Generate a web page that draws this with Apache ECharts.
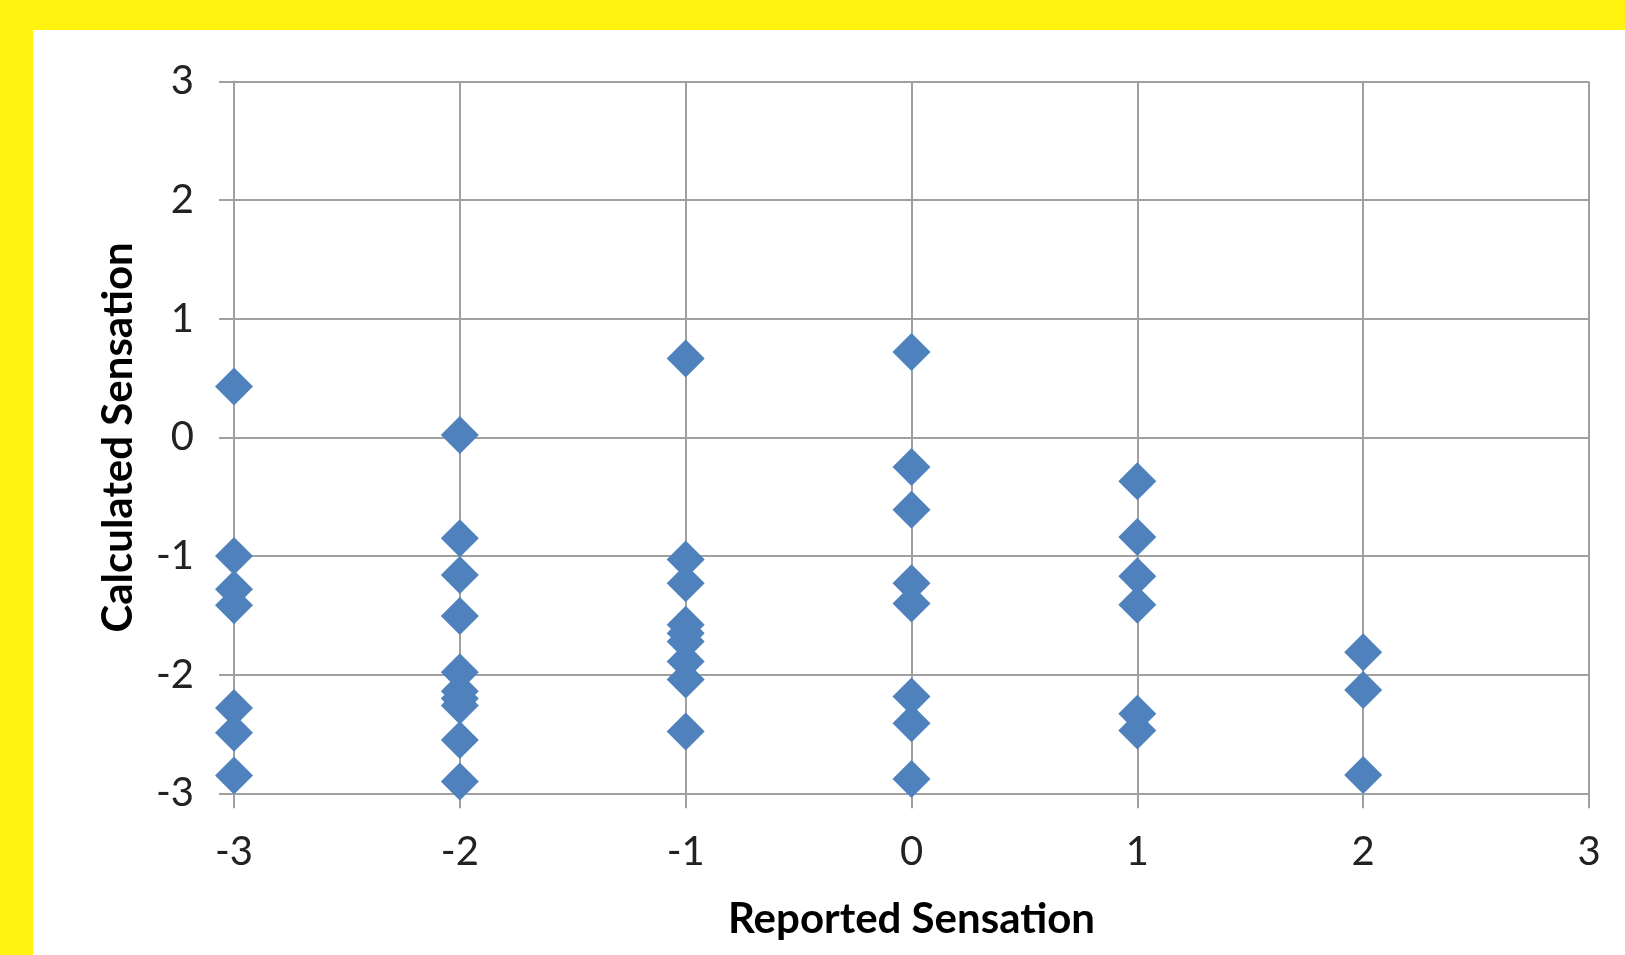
<!DOCTYPE html>
<html>
<head>
<meta charset="utf-8">
<script src="https://cdn.jsdelivr.net/npm/echarts@6/dist/echarts.min.js"></script>
<style>
  html, body { margin: 0; padding: 0; width: 1625px; height: 955px; background: #FFF30F; overflow: hidden; }
  #chart { position: absolute; left: 33px; top: 30px; width: 1592px; height: 925px; background: #ffffff; }
</style>
</head>
<body>
<div id="chart"></div>
<script>
// Reported sensation (x) and calculated sensation (y)
const reported = [
  -3, -3, -3, -3, -3, -3, -3,
  -2, -2, -2, -2, -2, -2, -2, -2, -2, -2,
  -1, -1, -1, -1, -1, -1, -1, -1, -1,
   0,  0,  0,  0,  0,  0,  0,  0,
   1,  1,  1,  1,  1,  1,
   2,  2,  2
];
const calculated = [
  0.43, -1.0, -1.28, -1.415, -2.28, -2.49, -2.85,
  0.02, -0.85, -1.16, -1.505, -1.98, -2.14, -2.2, -2.26, -2.55, -2.9,
  0.665, -1.03, -1.23, -1.58, -1.65, -1.72, -1.89, -2.04, -2.48,
  0.72, -0.25, -0.61, -1.23, -1.40, -2.185, -2.41, -2.88,
  -0.37, -0.84, -1.17, -1.41, -2.33, -2.47,
  -1.81, -2.13, -2.845
];
const xTitle = 'Reported Sensation';
const yTitle = 'Calculated Sensation';

const points = reported.map((x, i) => [x, calculated[i]]);
const gridColor = '#A0A0A0';
const font = 'Lato, "Open Sans", sans-serif';

const chart = echarts.init(document.getElementById('chart'));
chart.setOption({
  animation: false,
  backgroundColor: '#ffffff',
  grid: { left: 201, right: 36, top: 51.5, bottom: 161.7 },
  xAxis: {
    type: 'value', min: -3, max: 3, interval: 1,
    name: xTitle, nameLocation: 'middle', nameGap: 105,
    nameTextStyle: { fontFamily: font, fontWeight: 'bold', fontSize: 42, color: '#000' },
    axisLine: { show: true, onZero: false, lineStyle: { color: gridColor, width: 2 } },
    axisTick: { show: true, length: 15, lineStyle: { color: gridColor, width: 2 } },
    axisLabel: { fontFamily: font, fontSize: 40, color: '#222', margin: 39 },
    splitLine: { show: true, lineStyle: { color: gridColor, width: 2 } }
  },
  yAxis: {
    type: 'value', min: -3, max: 3, interval: 1,
    name: yTitle, nameLocation: 'middle', nameGap: 95,
    nameTextStyle: { fontFamily: font, fontWeight: 'bold', fontSize: 42, color: '#000' },
    axisLine: { show: true, onZero: false, lineStyle: { color: gridColor, width: 2 } },
    axisTick: { show: true, length: 15, lineStyle: { color: gridColor, width: 2 } },
    axisLabel: { fontFamily: font, fontSize: 40, color: '#222', margin: 40 },
    splitLine: { show: true, lineStyle: { color: gridColor, width: 2 } }
  },
  series: [{
    type: 'scatter',
    symbol: 'diamond',
    symbolSize: 38,
    itemStyle: { color: '#4F81BD', opacity: 1 },
    data: points
  }]
});
</script>
</body>
</html>
